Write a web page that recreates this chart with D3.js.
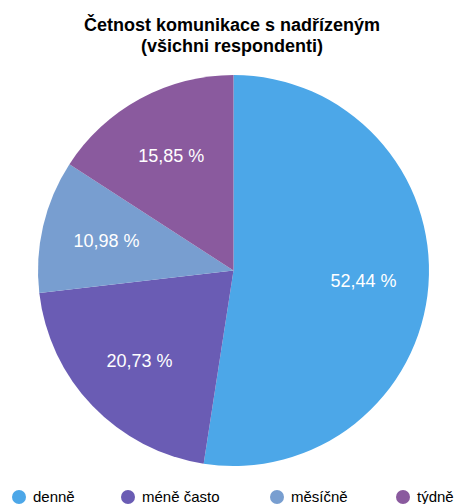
<!DOCTYPE html>
<html>
<head>
<meta charset="utf-8">
<script src="https://cdn.jsdelivr.net/npm/d3@7"></script>
<style>
  html, body { margin: 0; padding: 0; background: #fff; }
  svg { display: block; font-family: "Liberation Sans", Arial, Helvetica, sans-serif; }
</style>
</head>
<body>
<svg id="chart" width="458" height="504"></svg>
<script>
// Share of respondents by how often they communicate with their superior
const categories = ["denně", "méně často", "měsíčně", "týdně"];
const shares = [52.44, 20.73, 10.98, 15.85];
const colors = ["#4ca7e8", "#6a5cb4", "#789ed0", "#8a5a9e"];
const titleLines = ["Četnost komunikace s nadřízeným", "(všichni respondenti)"];

const svg = d3.select("#chart");
const cx = 233.5, cy = 270.5, radius = 195.5;

// Title
svg.append("g").selectAll("text")
  .data(titleLines)
  .join("text")
  .attr("x", 232)
  .attr("y", (d, i) => 31 + i * 21)
  .attr("text-anchor", "middle")
  .attr("font-size", 18)
  .attr("font-weight", "bold")
  .attr("fill", "#000")
  .text(d => d);

// Pie
const data = categories.map((c, i) => ({ name: c, value: shares[i], color: colors[i] }));
const pie = d3.pie().value(d => d.value).sort(null);
const arc = d3.arc().innerRadius(0).outerRadius(radius);
const labelArc = d3.arc().innerRadius(radius * 0.667).outerRadius(radius * 0.667);

const g = svg.append("g").attr("transform", `translate(${cx},${cy})`);
const arcs = pie(data);

g.selectAll("path")
  .data(arcs)
  .join("path")
  .attr("d", arc)
  .attr("fill", d => d.data.color);

const fmt = v => v.toFixed(2).replace(".", ",") + " %";
g.selectAll("text")
  .data(arcs)
  .join("text")
  .attr("transform", d => `translate(${labelArc.centroid(d)})`)
  .attr("text-anchor", "middle")
  .attr("dy", "0.35em")
  .attr("font-size", 18)
  .attr("fill", "#fff")
  .text(d => fmt(d.data.value));

// Legend
const legendX = [19, 128, 277, 403];
const legend = svg.append("g").selectAll("g")
  .data(data)
  .join("g")
  .attr("transform", (d, i) => `translate(${legendX[i]},497)`);
legend.append("circle").attr("r", 7).attr("fill", d => d.color);
legend.append("text")
  .attr("x", 14)
  .attr("y", 5)
  .attr("font-size", 15)
  .attr("fill", "#000")
  .text(d => d.name);
</script>
</body>
</html>
